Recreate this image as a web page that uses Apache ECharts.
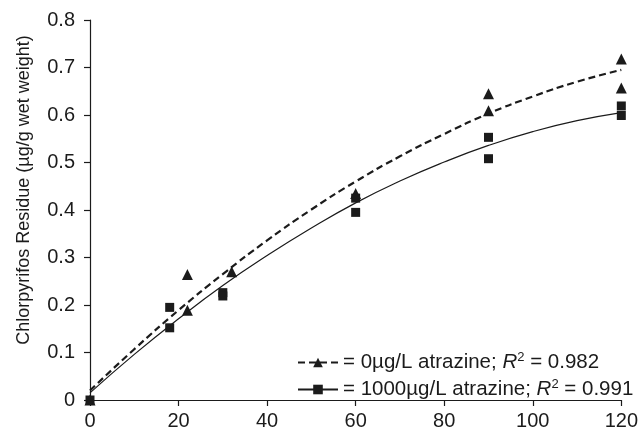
<!DOCTYPE html>
<html>
<head>
<meta charset="utf-8">
<script src="https://cdn.jsdelivr.net/npm/echarts@6/dist/echarts.min.js"></script>
<style>html,body{margin:0;padding:0;background:#fff}#c{width:641px;height:433px}</style>
</head>
<body>
<div id="c"></div>
<script>
// Observed data: [time, residue]
var triangleX = [0, 22, 22, 32, 60, 90, 90, 120, 120];
var triangleY = [0, 0.264, 0.189, 0.27, 0.435, 0.645, 0.609, 0.718, 0.657];
var squareX = [0, 18, 18, 30, 30, 60, 60, 90, 90, 120, 120];
var squareY = [0, 0.195, 0.152, 0.226, 0.219, 0.425, 0.395, 0.553, 0.508, 0.619, 0.599];
// Fitted curves
var fitX = [0, 10, 20, 30, 40, 50, 60, 70, 80, 90, 100, 110, 120];
var fit0Y = [0.02, 0.107, 0.189, 0.265, 0.336, 0.401, 0.46, 0.513, 0.56, 0.603, 0.639, 0.67, 0.695];
var fit1000Y = [0.015, 0.096, 0.171, 0.241, 0.304, 0.362, 0.415, 0.461, 0.501, 0.536, 0.565, 0.588, 0.605];
var xTicks = [0, 20, 40, 60, 80, 100, 120];
var yTicks = [0, 0.1, 0.2, 0.3, 0.4, 0.5, 0.6, 0.7, 0.8];
var legend0 = '= 0µg/L atrazine; {i|R}{s|2} = 0.982';
var legend1000 = '= 1000µg/L atrazine; {i|R}{s|2} = 0.991';

function pairs(xs, ys) { return xs.map(function (x, i) { return [x, ys[i]]; }); }

var chart = echarts.init(document.getElementById('c'), null, {renderer: 'canvas'});
var font = 'Liberation Sans, Arial, Helvetica, sans-serif';
var ink = '#1b1b1b';
chart.setOption({
  animation: false,
  backgroundColor: '#fff',
  textStyle: {fontFamily: font},
  grid: {left: 90, right: 19, top: 20, bottom: 33},
  xAxis: {
    type: 'value', min: xTicks[0], max: xTicks[xTicks.length - 1], interval: xTicks[1] - xTicks[0],
    axisLine: {lineStyle: {color: ink, width: 1.2}},
    axisTick: {length: 6, lineStyle: {color: ink, width: 1.2}},
    axisLabel: {color: ink, fontSize: 20, margin: 11, fontFamily: font},
    splitLine: {show: false}
  },
  yAxis: {
    type: 'value', min: yTicks[0], max: yTicks[yTicks.length - 1], interval: 0.1,
    name: 'Chlorpyrifos Residue (µg/g wet weight)',
    nameLocation: 'middle', nameGap: 57,
    nameTextStyle: {color: ink, fontSize: 18, fontFamily: font, padding: [0, 0, 0, 40]},
    axisLine: {show: true, lineStyle: {color: ink, width: 1.2}},
    axisTick: {show: true, length: 6, lineStyle: {color: ink, width: 1.2}},
    axisLabel: {color: ink, fontSize: 20, margin: 15, fontFamily: font},
    splitLine: {show: false}
  },
  legend: {
    orient: 'vertical', left: 292, top: 346, itemWidth: 40, itemHeight: 12, itemGap: 5,
    data: ['fit0', 'fit1000'],
    formatter: function (n) { return n === 'fit0' ? legend0 : legend1000; },
    textStyle: {
      color: ink, fontSize: 20.5, fontFamily: font,
      rich: {
        i: {fontStyle: 'italic', fontSize: 20.5, color: ink, fontFamily: font},
        s: {fontSize: 13, color: ink, fontFamily: font, verticalAlign: 'top', padding: [0, 0, 10, 0]}
      }
    }
  },
  series: [
    {
      name: 'fit0', type: 'line', data: pairs(fitX, fit0Y), smooth: true,
      symbol: 'triangle', symbolSize: 11, showSymbol: false,
      itemStyle: {color: ink},
      lineStyle: {color: ink, width: 2.2, type: [7, 4]}
    },
    {
      name: 'fit1000', type: 'line', data: pairs(fitX, fit1000Y), smooth: true,
      symbol: 'rect', symbolSize: 10, showSymbol: false,
      itemStyle: {color: ink},
      lineStyle: {color: ink, width: 1.2}
    },
    {
      name: 'sq', type: 'scatter', data: pairs(squareX, squareY),
      symbol: 'rect', symbolSize: 9, itemStyle: {color: ink, opacity: 1}
    },
    {
      name: 'tri', type: 'scatter', data: pairs(triangleX, triangleY),
      symbol: 'triangle', symbolSize: 11, itemStyle: {color: ink, opacity: 1}
    }
  ]
});
</script>
</body>
</html>
